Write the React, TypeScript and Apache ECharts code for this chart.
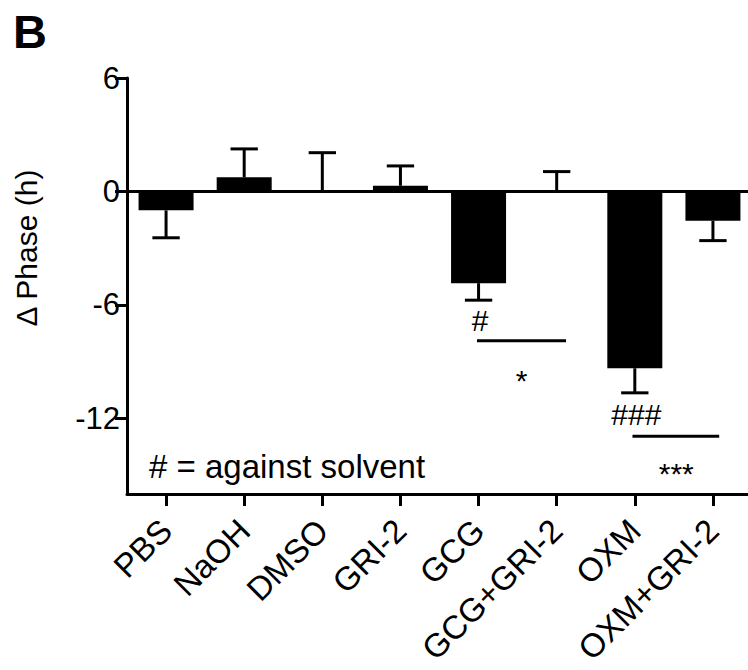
import React, { useEffect, useRef } from "react";
import * as echarts from "echarts";

const categories = ["PBS", "NaOH", "DMSO", "GRI-2", "GCG", "GCG+GRI-2", "OXM", "OXM+GRI-2"];
const meanValues = [-1.0, 0.75, 0.05, 0.3, -4.85, 0.05, -9.35, -1.55];
const errorValues = [1.45, 1.5, 2.0, 1.05, 0.9, 1.0, 1.3, 1.05];
const yTickValues = [-12, -6, 0, 6];

// significance bars: start / end in category units, y level
const sigLineStart = [3.98, 5.97];
const sigLineEnd = [5.12, 7.08];
const sigLineLevel = [-7.9, -12.95];

// significance marks
const sigLabels = ["#", "*", "###", "***"];
const sigLabelX = [4.02, 4.55, 6.02, 6.53];
const sigLabelY = [-6.83, -10.0, -11.8, -14.9];

const FONT = "'Liberation Sans', Arial, Helvetica, sans-serif";

export default function App() {
  const ref = useRef<HTMLDivElement>(null);

  useEffect(() => {
    const chart = echarts.init(ref.current as HTMLDivElement, null, { renderer: "svg" });

    const errData = meanValues.map((m, i) => [i, m, errorValues[i]]);
    const lineData = sigLineStart.map((s, i) => [s, sigLineLevel[i], sigLineEnd[i]]);
    const labelData = sigLabelX.map((x, i) => [x, sigLabelY[i]]);

    const option: any = {
      animation: false,
      backgroundColor: "#ffffff",
      grid: { left: 127, right: 8, top: 78, bottom: 176, containLabel: false },
      xAxis: [
        {
          type: "category",
          data: categories,
          boundaryGap: true,
          axisLine: { onZero: false, lineStyle: { color: "#000", width: 3 } },
          axisTick: { show: true, alignWithLabel: true, length: 12, lineStyle: { color: "#000", width: 3 } },
          axisLabel: {
            rotate: 45,
            interval: 0,
            fontSize: 33,
            color: "#000",
            fontFamily: FONT,
            margin: 31,
          },
          splitLine: { show: false },
        },
        { type: "value", min: -0.5, max: 7.5, show: false },
      ],
      yAxis: {
        type: "value",
        min: -16,
        max: 6,
        axisLine: { show: true, onZero: false, lineStyle: { color: "#000", width: 3 } },
        axisTick: { show: true, length: 12, customValues: yTickValues, lineStyle: { color: "#000", width: 3 } },
        axisLabel: { customValues: yTickValues, fontSize: 31, color: "#000", margin: 7, fontFamily: FONT },
        splitLine: { show: false },
      },
      series: [
        {
          type: "bar",
          data: meanValues,
          barWidth: 55,
          itemStyle: { color: "#000" },
          markLine: {
            silent: true,
            symbol: "none",
            label: { show: false },
            lineStyle: { color: "#000", width: 3, type: "solid" },
            data: [{ yAxis: 0 }],
          },
        },
        {
          type: "custom",
          data: errData,
          encode: { x: 0, y: 1 },
          z: 3,
          renderItem: (params: any, api: any) => {
            const i = api.value(0);
            const m = api.value(1);
            const e = api.value(2);
            const end = m >= 0 ? m + e : m - e;
            const p0 = api.coord([i, m]);
            const p1 = api.coord([i, end]);
            const half = api.size([1, 0])[0] * 0.175;
            const st = { stroke: "#000", lineWidth: 3 };
            return {
              type: "group",
              children: [
                { type: "line", shape: { x1: p0[0], y1: p0[1], x2: p1[0], y2: p1[1] }, style: st },
                { type: "line", shape: { x1: p1[0] - half, y1: p1[1], x2: p1[0] + half, y2: p1[1] }, style: st },
              ],
            };
          },
        },
        {
          type: "custom",
          xAxisIndex: 1,
          data: lineData,
          encode: { x: 0, y: 1 },
          renderItem: (params: any, api: any) => {
            const a = api.coord([api.value(0), api.value(1)]);
            const b = api.coord([api.value(2), api.value(1)]);
            return {
              type: "line",
              shape: { x1: a[0], y1: a[1], x2: b[0], y2: b[1] },
              style: { stroke: "#000", lineWidth: 3 },
            };
          },
        },
        {
          type: "custom",
          xAxisIndex: 1,
          data: labelData,
          encode: { x: 0, y: 1 },
          renderItem: (params: any, api: any) => {
            const p = api.coord([api.value(0), api.value(1)]);
            return {
              type: "text",
              x: p[0],
              y: p[1],
              style: {
                text: sigLabels[params.dataIndex],
                fontSize: 30,
                fontFamily: FONT,
                fill: "#000",
                align: "center",
                verticalAlign: "middle",
              },
            };
          },
        },
      ],
      graphic: [
        {
          type: "text",
          x: 13,
          y: 31,
          style: { text: "B", fontSize: 47, fontWeight: "bold", fontFamily: FONT, fill: "#000", align: "left", verticalAlign: "middle" },
        },
        {
          type: "text",
          x: 26,
          y: 248,
          rotation: Math.PI / 2,
          style: { text: "Δ Phase (h)", fontSize: 30, fontFamily: FONT, fill: "#000", align: "center", verticalAlign: "middle" },
        },
        {
          type: "text",
          x: 149,
          y: 466,
          style: { text: "# = against solvent", fontSize: 33, fontFamily: FONT, fill: "#000", align: "left", verticalAlign: "middle" },
        },
      ],
    };

    chart.setOption(option);
    return () => chart.dispose();
  }, []);

  return (
    <div
      ref={ref}
      style={{ position: "fixed", left: 0, top: 0, width: 760, height: 670, background: "#fff" }}
    />
  );
}
